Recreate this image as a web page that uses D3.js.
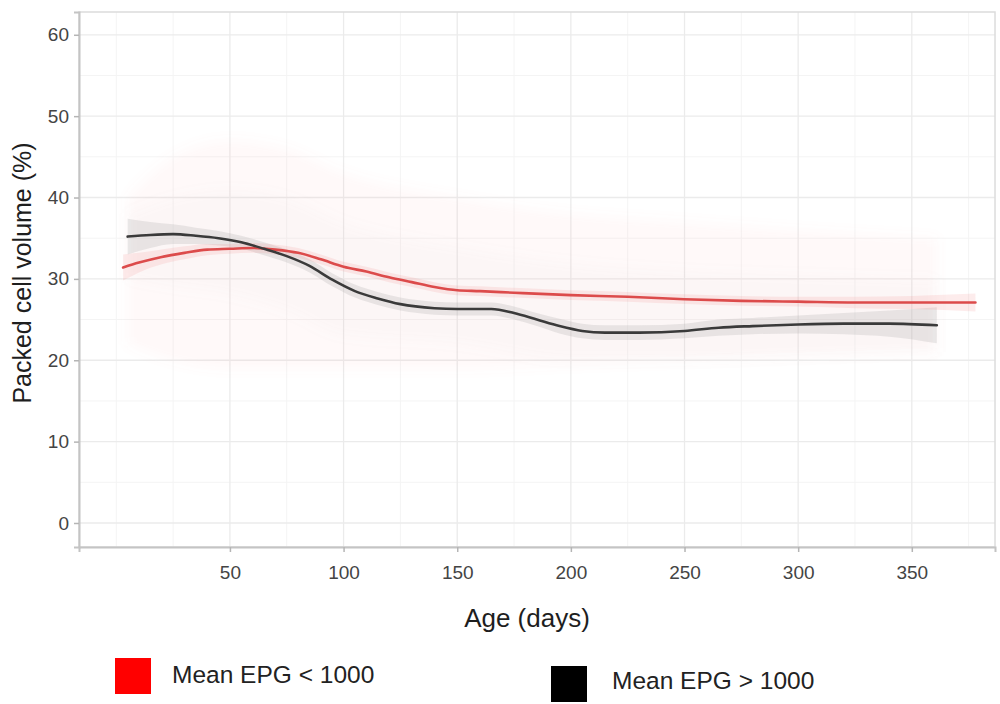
<!DOCTYPE html>
<html>
<head>
<meta charset="utf-8">
<script src="https://cdn.jsdelivr.net/npm/d3@7"></script>
<style>
  html, body { margin: 0; padding: 0; background: #fff; }
  svg { display: block; font-family: "Liberation Sans", Arial, sans-serif; }
</style>
</head>
<body>
<svg id="chart" width="1000" height="704"></svg>
<script>
// Smoothed packed cell volume (%) by age (days), split by mean faecal egg count

// Mean EPG < 1000 : smoothed mean
const lowAge  = [3, 10, 20, 30, 40, 50, 60, 70, 80, 90, 100, 110, 120, 130, 140, 150, 160, 175, 200, 225, 250, 275, 300, 325, 350, 378];
const lowPcv  = [31.4, 32.0, 32.7, 33.2, 33.6, 33.7, 33.8, 33.6, 33.2, 32.4, 31.5, 30.9, 30.2, 29.6, 29.0, 28.6, 28.5, 28.3, 28.0, 27.8, 27.5, 27.3, 27.2, 27.1, 27.1, 27.1];
// Mean EPG < 1000 : confidence band half-width
const lowSe   = [1.6, 1.2, 0.9, 0.8, 0.7, 0.6, 0.6, 0.6, 0.6, 0.6, 0.6, 0.6, 0.6, 0.6, 0.6, 0.6, 0.6, 0.6, 0.6, 0.6, 0.6, 0.6, 0.6, 0.7, 0.8, 1.1];

// Mean EPG > 1000 : smoothed mean
const highAge = [5, 15, 25, 35, 45, 55, 65, 75, 85, 95, 105, 115, 125, 140, 150, 165, 175, 185, 195, 205, 215, 230, 250, 265, 280, 300, 320, 340, 361];
const highPcv = [35.2, 35.4, 35.5, 35.3, 35.0, 34.5, 33.7, 32.8, 31.6, 29.9, 28.5, 27.6, 26.9, 26.4, 26.3, 26.3, 25.8, 25.0, 24.2, 23.6, 23.4, 23.4, 23.6, 24.0, 24.2, 24.4, 24.5, 24.5, 24.3];
// Mean EPG > 1000 : confidence band half-width
const highSe  = [2.2, 1.6, 1.2, 1.0, 0.9, 0.8, 0.8, 0.8, 0.8, 0.8, 0.8, 0.8, 0.8, 0.8, 0.8, 0.8, 0.8, 0.8, 0.9, 0.9, 0.9, 0.9, 0.9, 1.0, 1.0, 1.1, 1.3, 1.6, 2.2];

// Spread of the individual animal records behind each curve
const spreadAge = [5, 25, 50, 75, 100, 150, 200, 250, 300, 361];
const lowHi     = [40, 45, 47, 46, 43, 40, 38, 37, 36, 35];
const lowLo     = [22, 20, 19, 19, 19, 19, 19.5, 20, 20.5, 21];
const highHi    = [38, 40, 41, 40, 37, 34, 32, 31, 30.5, 30];
const highLo    = [30, 29, 28, 26, 23, 22, 20, 20, 20.5, 21];

// Axis ticks
const xTicks = [50, 100, 150, 200, 250, 300, 350];
const xMinor = [0, 25, 75, 125, 175, 225, 275, 325, 375];
const yTicks = [0, 10, 20, 30, 40, 50, 60];
const yMinor = [5, 15, 25, 35, 45, 55];

// Legend entries
const legendLabels = ["Mean EPG < 1000", "Mean EPG > 1000"];
const legendColors = ["#ff0000", "#000000"];

const svg = d3.select("#chart");
const panel = { left: 79, right: 995, top: 12, bottom: 547 };

const x = d3.scaleLinear().domain([-16.4, 386.6]).range([panel.left, panel.right]);
const y = d3.scaleLinear().domain([-2.95, 62.8]).range([panel.bottom, panel.top]);

// Soft edge for the record clouds
svg.append("defs").append("filter").attr("id", "soft")
  .attr("x", "-10%").attr("y", "-20%").attr("width", "120%").attr("height", "140%")
  .append("feGaussianBlur").attr("stdDeviation", 6);

// Grid
const grid = svg.append("g");
grid.selectAll(".xm").data(xMinor).join("line")
  .attr("x1", d => x(d)).attr("x2", d => x(d))
  .attr("y1", panel.top).attr("y2", panel.bottom)
  .attr("stroke", "#f4f4f4").attr("stroke-width", 1);
grid.selectAll(".ym").data(yMinor).join("line")
  .attr("x1", panel.left).attr("x2", panel.right)
  .attr("y1", d => y(d)).attr("y2", d => y(d))
  .attr("stroke", "#f4f4f4").attr("stroke-width", 1);
grid.selectAll(".xM").data(xTicks).join("line")
  .attr("x1", d => x(d)).attr("x2", d => x(d))
  .attr("y1", panel.top).attr("y2", panel.bottom)
  .attr("stroke", "#ebebeb").attr("stroke-width", 1.3);
grid.selectAll(".yM").data(yTicks).join("line")
  .attr("x1", panel.left).attr("x2", panel.right)
  .attr("y1", d => y(d)).attr("y2", d => y(d))
  .attr("stroke", "#ebebeb").attr("stroke-width", 1.3);

// Faint clouds of individual records
const spreadArea = (hi, lo) => d3.area()
  .x((d, i) => x(spreadAge[i]))
  .y0((d, i) => y(lo[i]))
  .y1((d, i) => y(hi[i]))
  .curve(d3.curveMonotoneX)(spreadAge);

svg.append("path").attr("d", spreadArea(lowHi, lowLo))
  .attr("fill", "#ff8c8c").attr("fill-opacity", 0.05).attr("filter", "url(#soft)");
svg.append("path").attr("d", spreadArea(highHi, highLo))
  .attr("fill", "#a0a0a0").attr("fill-opacity", 0.035).attr("filter", "url(#soft)");

// Confidence bands
const band = (ages, mean, se) => d3.area()
  .x((d, i) => x(ages[i]))
  .y0((d, i) => y(mean[i] - se[i]))
  .y1((d, i) => y(mean[i] + se[i]))
  .curve(d3.curveMonotoneX)(ages);

svg.append("path").attr("d", band(highAge, highPcv, highSe))
  .attr("fill", "#999999").attr("fill-opacity", 0.2);
svg.append("path").attr("d", band(lowAge, lowPcv, lowSe))
  .attr("fill", "#f08080").attr("fill-opacity", 0.15);

// Smoothed means
const meanLine = (ages, mean) => d3.line()
  .x((d, i) => x(ages[i]))
  .y((d, i) => y(mean[i]))
  .curve(d3.curveMonotoneX)(ages);

svg.append("path").attr("d", meanLine(lowAge, lowPcv))
  .attr("fill", "none").attr("stroke", "#dc4b4b").attr("stroke-width", 2.6)
  .attr("stroke-linecap", "round");
svg.append("path").attr("d", meanLine(highAge, highPcv))
  .attr("fill", "none").attr("stroke", "#3a3a3a").attr("stroke-width", 2.6)
  .attr("stroke-linecap", "round");

// Panel outline
svg.append("rect")
  .attr("x", panel.left).attr("y", panel.top)
  .attr("width", panel.right - panel.left).attr("height", panel.bottom - panel.top)
  .attr("fill", "none").attr("stroke", "#dcdcdc").attr("stroke-width", 1.5);

// Axes
const yAxis = svg.append("g")
  .attr("transform", `translate(${panel.left},0)`)
  .call(d3.axisLeft(y).tickValues(yTicks).tickSize(5).tickPadding(5));
const xAxis = svg.append("g")
  .attr("transform", `translate(0,${panel.bottom})`)
  .call(d3.axisBottom(x).tickValues(xTicks).tickSize(5).tickPadding(14));

[xAxis, yAxis].forEach(a => {
  a.select(".domain").attr("stroke", "#c4c4c4").attr("stroke-width", 2);
  a.selectAll(".tick line").attr("stroke", "#b5b5b5").attr("stroke-width", 1.5);
  a.selectAll(".tick text")
    .attr("fill", "#444")
    .style("font-size", "19px")
    .style("font-family", "'Liberation Sans', Arial, sans-serif");
});

// Axis titles
svg.append("text")
  .attr("x", 527).attr("y", 627)
  .attr("text-anchor", "middle")
  .attr("fill", "#1e1e1e")
  .style("font-size", "26px")
  .text("Age (days)");

svg.append("text")
  .attr("transform", "translate(31,273) rotate(-90)")
  .attr("text-anchor", "middle")
  .attr("fill", "#1e1e1e")
  .style("font-size", "25px")
  .text("Packed cell volume (%)");

// Legend
const legendPos = [{ kx: 115, ky: 658, tx: 172, ty: 683 }, { kx: 551, ky: 666, tx: 612, ty: 689 }];
const legend = svg.append("g");
legend.selectAll("rect").data(legendLabels).join("rect")
  .attr("x", (d, i) => legendPos[i].kx).attr("y", (d, i) => legendPos[i].ky)
  .attr("width", 36).attr("height", 36)
  .attr("fill", (d, i) => legendColors[i]);
legend.selectAll("text").data(legendLabels).join("text")
  .attr("x", (d, i) => legendPos[i].tx).attr("y", (d, i) => legendPos[i].ty)
  .attr("fill", "#222")
  .style("font-size", "24.5px")
  .text(d => d);
</script>
</body>
</html>
